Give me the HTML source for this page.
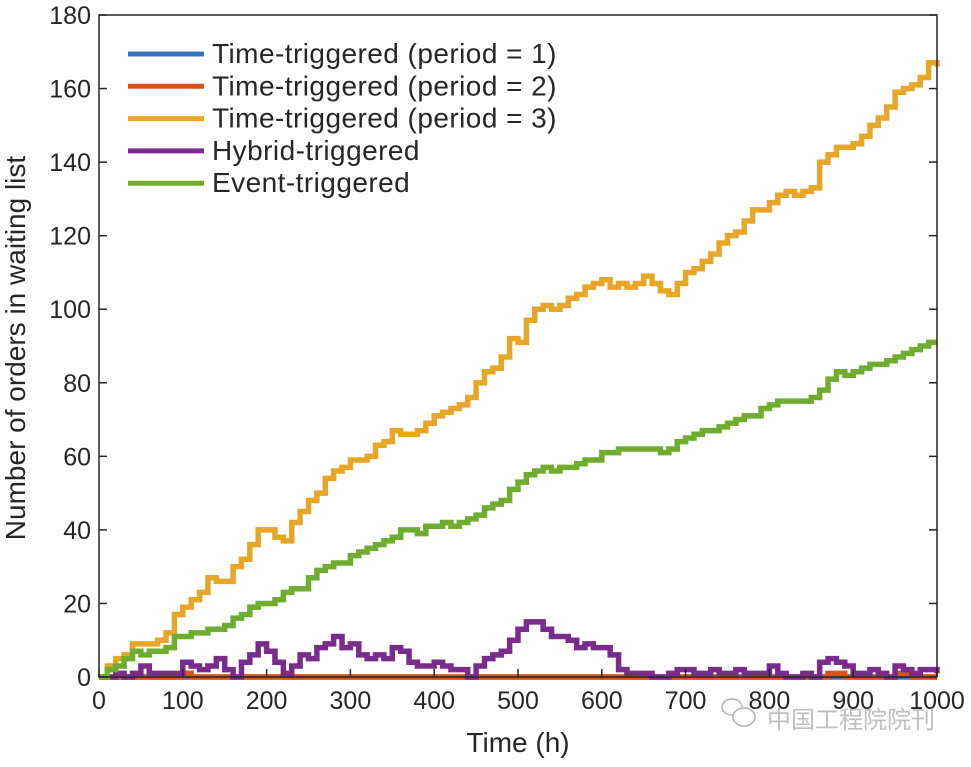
<!DOCTYPE html>
<html><head><meta charset="utf-8"><style>
body{margin:0;background:#fff;}
svg text{font-family:"Liberation Sans",Arial,sans-serif;fill:#262626;}
</style></head><body>
<svg id="chart" width="971" height="762" viewBox="0 0 971 762" xmlns="http://www.w3.org/2000/svg">
<rect width="971" height="762" fill="#fff"/>
<g id="series"></g>
<g id="axes"></g>
<g id="legend"></g>
<text x="518" y="752" font-size="28" text-anchor="middle">Time (h)</text>
<text transform="translate(25,348) rotate(-90)" font-size="28" text-anchor="middle">Number of orders in waiting list</text>
<g opacity="0.75">
<ellipse cx="732" cy="707" rx="10" ry="8" fill="none" stroke="#999" stroke-width="1.5"/>
<ellipse cx="744" cy="717" rx="11" ry="9" fill="#fff" stroke="#999" stroke-width="1.5"/>
<text x="767" y="728" font-size="24" style="font-family:'Liberation Sans','Noto Sans CJK SC',sans-serif;fill:#aaa">中国工程院院刊</text>
</g>
</svg>
<script>
const times=[0,10,20,30,40,50,60,70,80,90,100,110,120,130,140,150,160,170,180,190,200,210,220,230,240,250,260,270,280,290,300,310,320,330,340,350,360,370,380,390,400,410,420,430,440,450,460,470,480,490,500,510,520,530,540,550,560,570,580,590,600,610,620,630,640,650,660,670,680,690,700,710,720,730,740,750,760,770,780,790,800,810,820,830,840,850,860,870,880,890,900,910,920,930,940,950,960,970,980,990,1000];
const period1=times.map(()=>0);
const period2=[0,0,0,0,0,0,0,0,0,0,1,0,0,0,0,0,0,0,0,0,0,0,0,0,0,0,0,0,0,0,0,0,0,0,0,0,0,0,0,0,0,0,0,0,0,0,0,0,0,0,0,0,0,0,0,0,0,0,0,0,0,0,0,0,0,0,0,0,0,0,0,0,0,0,0,0,0,0,0,0,0,0,0,0,0,0,0,1,1,0,0,0,0,0,0,1,1,0,0,0,0];
const period3=[0,3,5,6,9,9,9,10,12,17,19,21,23,27,26,26,30,32,36,40,40,38,37,42,45,48,50,54,56,57,59,59,60,63,64,67,66,66,67,69,71,72,73,74,76,80,83,84,87,92,91,97,100,101,100,101,103,104,106,107,108,106,107,106,107,109,107,105,104,107,110,111,113,115,118,120,121,124,127,127,129,131,132,131,132,133,140,142,144,144,145,147,150,152,155,159,160,161,163,167,166];
const hybrid=[0,0,1,0,1,3,1,1,1,1,4,3,2,3,5,2,0,4,6,9,7,4,1,3,6,5,8,9,11,8,9,6,5,6,5,8,7,4,3,3,4,3,2,2,0,3,5,6,7,10,13,15,15,13,11,11,10,8,9,8,8,6,2,1,1,1,0,0,1,2,2,1,1,2,1,1,2,1,1,1,3,1,0,0,1,0,4,5,4,3,1,1,2,1,0,3,2,1,2,2,1];
const eventTrig=[0,2,3,5,7,6,7,7,8,11,11,12,12,13,13,14,16,17,19,20,20,21,23,24,24,27,29,30,31,31,33,34,35,36,37,38,40,40,39,41,41,42,41,42,43,44,46,47,48,51,53,55,56,57,56,57,57,58,59,59,61,61,62,62,62,62,62,61,62,64,65,66,67,67,68,69,70,71,71,73,74,75,75,75,75,76,78,81,83,82,83,84,85,85,86,87,88,89,90,91,91];
const seriesNames=["Time-triggered (period = 1)","Time-triggered (period = 2)","Time-triggered (period = 3)","Hybrid-triggered","Event-triggered"];
const xTicks=[0,100,200,300,400,500,600,700,800,900,1000];
const yTicks=[0,20,40,60,80,100,120,140,160,180];

const X0=99,X1=937,Y0=677,Y1=15;
const xs=t=>X0+(t/1000)*(X1-X0);
const ys=v=>Y0-(v/180)*(Y0-Y1);
const NS="http://www.w3.org/2000/svg";
const colors=["#3b72bd","#d95319","#e8a628","#7a2c8c","#6fac2f"];
const allData=[period1,period2,period3,hybrid,eventTrig];
const keys=["period-1","period-2","period-3","hybrid","event"];
const sg=document.getElementById('series');
allData.forEach((d,i)=>{
  let p="M"+xs(times[0])+","+ys(d[0]);
  for(let k=1;k<times.length;k++){p+=" H"+xs(times[k])+" V"+ys(d[k]);}
  const el=document.createElementNS(NS,'path');
  el.setAttribute('d',p);el.setAttribute('fill','none');
  el.setAttribute('stroke',colors[i]);el.setAttribute('stroke-width','5.5');
  el.setAttribute('stroke-linejoin','miter');
  
  
  sg.appendChild(el);
});
const ag=document.getElementById('axes');
const box=document.createElementNS(NS,'rect');
box.setAttribute('x',X0);box.setAttribute('y',Y1);box.setAttribute('width',X1-X0);box.setAttribute('height',Y0-Y1);
box.setAttribute('fill','none');box.setAttribute('stroke','#262626');box.setAttribute('stroke-width','1.5');


ag.appendChild(box);
xTicks.forEach(t=>{
  const l=document.createElementNS(NS,'line');
  l.setAttribute('x1',xs(t));l.setAttribute('x2',xs(t));l.setAttribute('y1',Y0);l.setAttribute('y2',Y0-8);
  l.setAttribute('stroke','#262626');l.setAttribute('stroke-width','1.5');
  
  
  ag.appendChild(l);
  const tx=document.createElementNS(NS,'text');
  tx.setAttribute('x',xs(t));tx.setAttribute('y',Y0+32);tx.setAttribute('font-size','25');tx.setAttribute('text-anchor','middle');
  tx.textContent=t;
  
  
  ag.appendChild(tx);
});
yTicks.forEach(v=>{
  const l=document.createElementNS(NS,'line');
  l.setAttribute('x1',X0);l.setAttribute('x2',X0+8);l.setAttribute('y1',ys(v));l.setAttribute('y2',ys(v));
  l.setAttribute('stroke','#262626');l.setAttribute('stroke-width','1.5');
  
  
  ag.appendChild(l);
  const l2=document.createElementNS(NS,'line');
  l2.setAttribute('x1',X1);l2.setAttribute('x2',X1-8);l2.setAttribute('y1',ys(v));l2.setAttribute('y2',ys(v));
  l2.setAttribute('stroke','#262626');l2.setAttribute('stroke-width','1.5');
  
  
  ag.appendChild(l2);
  const tx=document.createElementNS(NS,'text');
  tx.setAttribute('x',X0-8);tx.setAttribute('y',ys(v)+9);tx.setAttribute('font-size','25');tx.setAttribute('text-anchor','end');
  tx.textContent=v;
  
  
  ag.appendChild(tx);
});
const lg=document.getElementById('legend');
seriesNames.forEach((n,i)=>{
  const y=54+i*32.3;
  const l=document.createElementNS(NS,'line');
  l.setAttribute('x1',128);l.setAttribute('x2',204);l.setAttribute('y1',y);l.setAttribute('y2',y);
  l.setAttribute('stroke',colors[i]);l.setAttribute('stroke-width','5');
  
  
  lg.appendChild(l);
  const tx=document.createElementNS(NS,'text');
  tx.setAttribute('x',212);tx.setAttribute('y',y+9);tx.setAttribute('font-size','28');
  tx.setAttribute('letter-spacing','0.45');
  tx.textContent=n;
  
  
  lg.appendChild(tx);
});
</script>
</body></html>
